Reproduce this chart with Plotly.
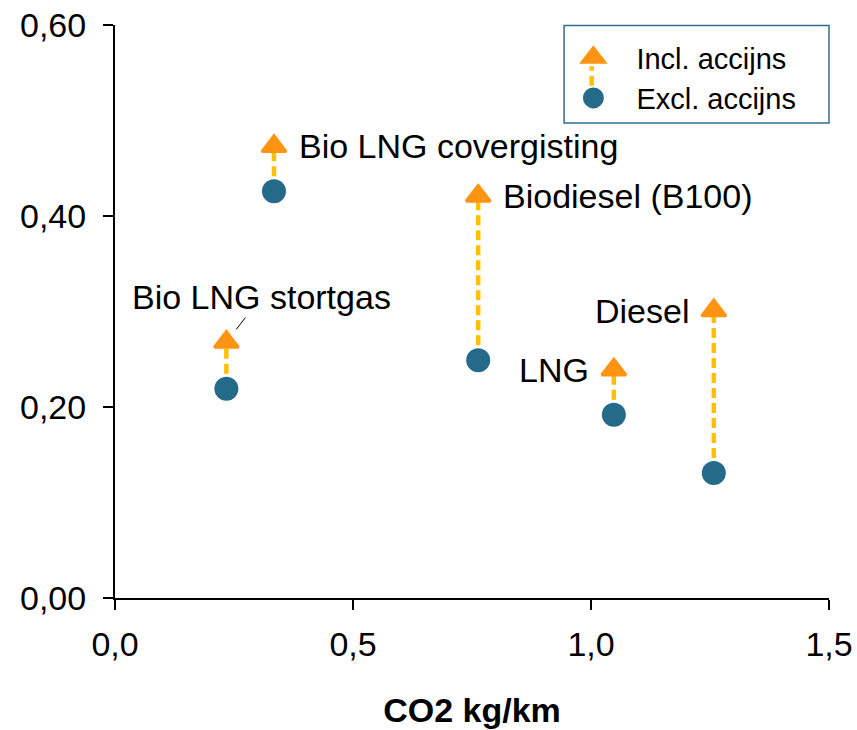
import plotly.graph_objects as go

# Data
fuels = ["Bio LNG stortgas", "Bio LNG covergisting", "Biodiesel (B100)", "LNG", "Diesel"]
co2_kg_km = [0.234, 0.334, 0.763, 1.048, 1.258]
excl_accijns = [0.219, 0.426, 0.249, 0.192, 0.131]
incl_accijns = [0.268, 0.473, 0.421, 0.239, 0.301]

x_ticks = [0.0, 0.5, 1.0, 1.5]
y_ticks = [0.0, 0.2, 0.4, 0.6]

ORANGE = "#FF9412"
BLUE = "#266A89"
GOLD = "#FFC000"
FONT = "Liberation Sans, Arial, sans-serif"

fig = go.Figure()

# dashed connectors between excl and incl
for xv, lo, hi in zip(co2_kg_km, excl_accijns, incl_accijns):
    fig.add_trace(go.Scatter(
        x=[xv, xv], y=[lo, hi], mode="lines",
        line=dict(color=GOLD, width=4.5, dash="10px,5px"),
        showlegend=False, hoverinfo="skip"))

fig.add_trace(go.Scatter(
    x=co2_kg_km, y=excl_accijns, mode="markers", name="Excl. accijns",
    marker=dict(symbol="circle", size=24, color=BLUE), showlegend=False))
fig.add_trace(go.Scatter(
    x=co2_kg_km, y=incl_accijns, mode="markers", name="Incl. accijns",
    marker=dict(symbol="triangle-up", size=21, color=ORANGE,
                line=dict(color=ORANGE, width=3)), showlegend=False))

# legend-only entries
fig.add_trace(go.Scatter(
    x=[None], y=[None], mode="markers", name="Incl. accijns",
    marker=dict(symbol="triangle-up", size=16, color=ORANGE,
                line=dict(color=ORANGE, width=5))))
fig.add_trace(go.Scatter(
    x=[None], y=[None], mode="markers", name="Excl. accijns",
    marker=dict(symbol="circle", size=16, color=BLUE,
                line=dict(color=BLUE, width=5))))

# labels
label_cfg = {
    "Bio LNG covergisting": dict(xanchor="left", xshift=23),
    "Biodiesel (B100)": dict(xanchor="left", xshift=23),
    "LNG": dict(xanchor="right", xshift=-23),
    "Diesel": dict(xanchor="right", xshift=-23),
}
for name, xv, yv in zip(fuels, co2_kg_km, incl_accijns):
    if name in label_cfg:
        cfg = label_cfg[name]
        fig.add_annotation(x=xv, y=yv, text=name, showarrow=False,
                           xanchor=cfg["xanchor"], yanchor="middle",
                           xshift=cfg["xshift"], yshift=0,
                           font=dict(size=34, color="black", family=FONT))
    else:
        fig.add_annotation(x=xv, y=yv, text=name, showarrow=True,
                           arrowhead=0, arrowwidth=1, arrowcolor="black",
                           ax=35, ay=-45, standoff=16,
                           font=dict(size=34, color="black", family=FONT))

# legend border and key connector
fig.add_shape(type="rect", xref="paper", yref="paper",
              x0=0.629, x1=1.0, y0=0.829, y1=0.999,
              line=dict(color="#2F6E8E", width=1.5), fillcolor="rgba(0,0,0,0)")
fig.add_shape(type="line", xref="paper", yref="paper",
              x0=0.6676, x1=0.6676, y0=0.894, y1=0.928,
              line=dict(color=GOLD, width=4.5, dash="10px,5px"))

fig.update_layout(
    width=857, height=730,
    margin=dict(l=115, r=28, t=25, b=132, autoexpand=False),
    paper_bgcolor="white", plot_bgcolor="white",
    separators=", ",
    font=dict(family=FONT, size=34, color="black"),
    legend=dict(x=0.6098, y=0.988, xanchor="left", yanchor="top",
                bgcolor="rgba(0,0,0,0)", borderwidth=0,
                font=dict(size=29, color="black", family=FONT),
                itemwidth=76, tracegroupgap=0),
    xaxis=dict(range=[0, 1.5], tickvals=x_ticks, tickformat=".1f",
               showline=True, linecolor="black", linewidth=2,
               ticks="outside", ticklen=10, tickwidth=1.5, tickcolor="black",
               showgrid=False, zeroline=False, automargin=False,
               ticklabelstandoff=5,
               tickfont=dict(size=34),
               title=dict(text="<b>CO2 kg/km</b>", standoff=36,
                          font=dict(size=34, family=FONT))),
    yaxis=dict(range=[0, 0.6], tickvals=y_ticks, tickformat=".2f",
               showline=True, linecolor="black", linewidth=2,
               ticks="outside", ticklen=10, tickwidth=1.5, tickcolor="black",
               showgrid=False, zeroline=False, automargin=False,
               tickfont=dict(size=34),
               ticklabelstandoff=10),
)

fig.write_html("out.html")
